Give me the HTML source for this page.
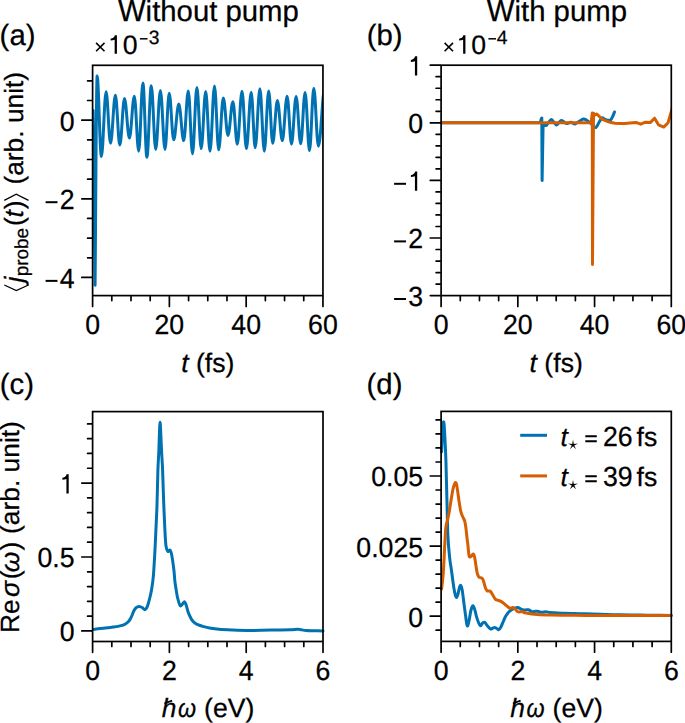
<!DOCTYPE html>
<html><head><meta charset="utf-8"><style>
html,body{margin:0;padding:0;background:#fff;overflow:hidden;}
svg{display:block;}
text{text-rendering:geometricPrecision;}
</style></head><body>
<svg width="685" height="723" viewBox="0 0 685 723">
<rect width="685" height="723" fill="#fff"/>
<clipPath id="ca"><rect x="92.6" y="64.3" width="230.35" height="232.30"/></clipPath>
<path d="M93.1,110.5 L95.1,285.2 C95.8,200 96.3,80 97.1,76.0C98.66,76.00 99.84,156.50 101.40,156.50C103.11,156.50 104.39,91.80 106.10,91.80C107.70,91.80 108.90,143.30 110.50,143.30C112.28,143.30 113.62,95.30 115.40,95.30C117.00,95.30 118.20,145.10 119.80,145.10C121.51,145.10 122.79,98.50 124.50,98.50C126.28,98.50 127.62,138.10 129.40,138.10C131.18,138.10 132.52,96.20 134.30,96.20C135.90,96.20 137.10,151.20 138.70,151.20C140.23,151.20 141.37,83.00 142.90,83.00C144.35,83.00 145.45,157.30 146.90,157.30C148.50,157.30 149.70,85.70 151.30,85.70C152.90,85.70 154.10,149.40 155.70,149.40C157.41,149.40 158.69,90.40 160.40,90.40C162.07,90.40 163.33,149.40 165.00,149.40C166.53,149.40 167.67,93.20 169.20,93.20C170.84,93.20 172.06,139.80 173.70,139.80C175.55,139.80 176.95,104.10 178.80,104.10C180.58,104.10 181.92,140.70 183.70,140.70C185.37,140.70 186.63,90.90 188.30,90.90C189.83,90.90 190.97,153.80 192.50,153.80C194.10,153.80 195.30,87.40 196.90,87.40C198.46,87.40 199.64,148.60 201.20,148.60C202.84,148.60 204.06,91.50 205.70,91.50C207.26,91.50 208.44,151.20 210.00,151.20C211.64,151.20 212.86,86.00 214.50,86.00C216.03,86.00 217.17,149.80 218.70,149.80C220.37,149.80 221.63,97.90 223.30,97.90C225.01,97.90 226.29,135.40 228.00,135.40C229.78,135.40 231.12,101.80 232.90,101.80C234.50,101.80 235.70,144.20 237.30,144.20C239.01,144.20 240.29,91.30 242.00,91.30C243.60,91.30 244.80,148.60 246.40,148.60C248.14,148.60 249.46,92.30 251.20,92.30C252.65,92.30 253.75,147.70 255.20,147.70C256.91,147.70 258.19,88.80 259.90,88.80C261.50,88.80 262.70,151.20 264.30,151.20C265.90,151.20 267.10,90.90 268.70,90.90C270.15,90.90 271.25,143.30 272.70,143.30C274.41,143.30 275.69,100.60 277.40,100.60C279.18,100.60 280.52,140.70 282.30,140.70C284.04,140.70 285.36,96.20 287.10,96.20C288.70,96.20 289.90,144.20 291.50,144.20C293.17,144.20 294.43,96.50 296.10,96.50C297.77,96.50 299.03,143.80 300.70,143.80C302.30,143.80 303.50,92.40 305.10,92.40C306.70,92.40 307.90,150.80 309.50,150.80C311.06,150.80 312.24,88.30 313.80,88.30C315.47,88.30 316.73,146.30 318.40,146.30C320.73,146.30 322.47,88.00 324.80,88.00" fill="none" stroke="#0072b2" stroke-width="3.0" stroke-linejoin="round" stroke-linecap="round" clip-path="url(#ca)"/>
<path d="M441.10,122.70 L540.30,122.70 L541.30,118.60 L541.80,118.00 L542.10,180.60 L543.10,124.40C543.58,124.58 545.08,125.83 546.00,125.50C546.92,125.17 547.72,123.40 548.60,122.40C549.48,121.40 550.43,119.57 551.30,119.50C552.17,119.43 552.95,121.08 553.80,122.00C554.65,122.92 555.55,124.88 556.40,125.00C557.25,125.12 558.08,123.47 558.90,122.70C559.72,121.93 560.48,120.55 561.30,120.40C562.12,120.25 562.98,121.30 563.80,121.80C564.62,122.30 565.42,123.20 566.20,123.40C566.98,123.60 567.70,123.18 568.50,123.00C569.30,122.82 570.25,122.25 571.00,122.30C571.75,122.35 572.33,123.02 573.00,123.30C573.67,123.58 573.95,124.33 575.00,124.00C576.05,123.67 577.90,122.15 579.30,121.30C580.70,120.45 582.17,119.08 583.40,118.90C584.63,118.72 585.62,119.58 586.70,120.20C587.78,120.82 588.85,121.72 589.90,122.60C590.95,123.48 591.98,124.68 593.00,125.50C594.02,126.32 594.97,128.08 596.00,127.50C597.03,126.92 598.20,123.60 599.20,122.00C600.20,120.40 601.17,118.43 602.00,117.90C602.83,117.37 603.48,118.48 604.20,118.80C604.92,119.12 605.58,119.55 606.30,119.80C607.02,120.05 607.77,120.27 608.50,120.30C609.23,120.33 610.00,120.63 610.70,120.00C611.40,119.37 612.07,117.83 612.70,116.50C613.33,115.17 614.20,112.75 614.50,112.00" fill="none" stroke="#0072b2" stroke-width="3.0" stroke-linejoin="round" stroke-linecap="round"/>
<clipPath id="cb"><rect x="441.1" y="64.2" width="230.20" height="232.40"/></clipPath>
<path d="M441.10,122.70 L591.10,122.70 L592.30,112.90 L592.50,264.60 L593.50,113.20 L594.90,115.00L596.60,114.00 L598.50,115.60 L600.50,117.80 L603.00,119.70 L606.00,120.90 L610.00,122.30 L615.00,123.20 L620.00,123.60 L625.00,123.50 L630.00,123.00 L636.00,122.40 L640.70,124.20 L645.40,122.20 L650.20,122.60 L654.60,118.20 L658.60,124.90 L663.70,127.10 L668.10,122.70 L672.50,107.50" fill="none" stroke="#d55e00" stroke-width="3.0" stroke-linejoin="round" stroke-linecap="round" clip-path="url(#cb)"/>
<path d="M93.50,629.40C94.58,629.27 97.67,628.88 100.00,628.60C102.33,628.32 105.33,627.95 107.50,627.70C109.67,627.45 111.25,627.32 113.00,627.10C114.75,626.88 116.50,626.68 118.00,626.40C119.50,626.12 120.83,625.77 122.00,625.40C123.17,625.03 124.00,624.77 125.00,624.20C126.00,623.63 127.12,622.88 128.00,622.00C128.88,621.12 129.60,620.07 130.30,618.90C131.00,617.73 131.62,616.32 132.20,615.00C132.78,613.68 133.18,612.18 133.80,611.00C134.42,609.82 135.20,608.60 135.90,607.90C136.60,607.20 137.33,607.02 138.00,606.80C138.67,606.58 139.20,606.47 139.90,606.60C140.60,606.73 141.42,607.10 142.20,607.60C142.98,608.10 143.92,609.45 144.60,609.60C145.28,609.75 145.73,609.35 146.30,608.50C146.87,607.65 147.38,606.42 148.00,604.50C148.62,602.58 149.40,599.50 150.00,597.00C150.60,594.50 151.05,592.88 151.60,589.50C152.15,586.12 152.77,582.72 153.30,576.70C153.83,570.68 154.37,561.18 154.80,553.40C155.23,545.62 155.53,538.07 155.90,530.00C156.27,521.93 156.67,515.00 157.00,505.00C157.33,495.00 157.60,478.83 157.90,470.00C158.20,461.17 158.55,458.00 158.80,452.00C159.05,446.00 159.18,438.95 159.40,434.00C159.62,429.05 159.87,422.30 160.10,422.30C160.33,422.30 160.55,429.05 160.80,434.00C161.05,438.95 161.30,446.00 161.60,452.00C161.90,458.00 162.27,462.00 162.60,470.00C162.93,478.00 163.22,490.00 163.60,500.00C163.98,510.00 164.50,522.33 164.90,530.00C165.30,537.67 165.50,542.43 166.00,546.00C166.50,549.57 167.23,550.73 167.90,551.40C168.57,552.07 169.43,549.73 170.00,550.00C170.57,550.27 170.87,551.27 171.30,553.00C171.73,554.73 172.15,557.40 172.60,560.40C173.05,563.40 173.62,567.50 174.00,571.00C174.38,574.50 174.53,578.23 174.90,581.40C175.27,584.57 175.77,587.32 176.20,590.00C176.63,592.68 176.85,594.90 177.50,597.50C178.15,600.10 179.27,604.52 180.10,605.60C180.93,606.68 181.75,604.63 182.50,604.00C183.25,603.37 183.97,601.55 184.60,601.80C185.23,602.05 185.72,603.80 186.30,605.50C186.88,607.20 187.40,610.00 188.10,612.00C188.80,614.00 189.77,616.03 190.50,617.50C191.23,618.97 191.67,619.80 192.50,620.80C193.33,621.80 194.48,622.80 195.50,623.50C196.52,624.20 197.27,624.48 198.60,625.00C199.93,625.52 201.68,626.10 203.50,626.60C205.32,627.10 206.92,627.55 209.50,628.00C212.08,628.45 215.08,628.97 219.00,629.30C222.92,629.63 228.27,629.82 233.00,630.00C237.73,630.18 242.57,630.35 247.40,630.40C252.23,630.45 257.23,630.37 262.00,630.30C266.77,630.23 271.33,630.10 276.00,630.00C280.67,629.90 286.42,629.82 290.00,629.70C293.58,629.58 295.83,629.33 297.50,629.30C299.17,629.27 298.53,629.28 300.00,629.50C301.47,629.72 303.97,630.38 306.30,630.60C308.63,630.82 311.22,630.75 314.00,630.80C316.78,630.85 321.50,630.88 323.00,630.90" fill="none" stroke="#0072b2" stroke-width="3.0" stroke-linejoin="round" stroke-linecap="round"/>
<path d="M441.60,452.00C441.77,448.50 442.28,436.02 442.60,431.00C442.92,425.98 443.22,422.57 443.50,421.90C443.78,421.23 444.05,423.98 444.30,427.00C444.55,430.02 444.73,434.50 445.00,440.00C445.27,445.50 445.60,450.83 445.90,460.00C446.20,469.17 446.47,482.35 446.80,495.00C447.13,507.65 447.42,525.38 447.90,535.90C448.38,546.42 449.12,552.42 449.70,558.10C450.28,563.78 450.72,565.10 451.40,570.00C452.08,574.90 453.17,583.42 453.80,587.50C454.43,591.58 454.75,592.83 455.20,594.50C455.65,596.17 456.03,597.58 456.50,597.50C456.97,597.42 457.50,595.67 458.00,594.00C458.50,592.33 459.03,588.92 459.50,587.50C459.97,586.08 460.35,585.08 460.80,585.50C461.25,585.92 461.72,587.33 462.20,590.00C462.68,592.67 463.15,597.33 463.70,601.50C464.25,605.67 464.92,610.95 465.50,615.00C466.08,619.05 466.62,624.80 467.20,625.80C467.78,626.80 468.37,623.63 469.00,621.00C469.63,618.37 470.33,612.53 471.00,610.00C471.67,607.47 472.33,605.72 473.00,605.80C473.67,605.88 474.42,608.68 475.00,610.50C475.58,612.32 475.92,614.70 476.50,616.70C477.08,618.70 477.82,620.98 478.50,622.50C479.18,624.02 479.92,625.72 480.60,625.80C481.28,625.88 481.92,623.58 482.60,623.00C483.28,622.42 483.88,621.80 484.70,622.30C485.52,622.80 486.52,624.88 487.50,626.00C488.48,627.12 489.68,628.67 490.60,629.00C491.52,629.33 492.23,628.23 493.00,628.00C493.77,627.77 494.50,627.47 495.20,627.60C495.90,627.73 496.62,628.47 497.20,628.80C497.78,629.13 498.10,629.87 498.70,629.60C499.30,629.33 500.12,628.35 500.80,627.20C501.48,626.05 502.10,624.32 502.80,622.70C503.50,621.08 504.32,618.87 505.00,617.50C505.68,616.13 506.23,615.45 506.90,614.50C507.57,613.55 508.22,612.58 509.00,611.80C509.78,611.02 510.68,610.38 511.60,609.80C512.52,609.22 513.47,608.67 514.50,608.30C515.53,607.93 516.80,607.52 517.80,607.60C518.80,607.68 519.72,608.47 520.50,608.80C521.28,609.13 521.67,609.42 522.50,609.60C523.33,609.78 524.52,609.87 525.50,609.90C526.48,609.93 527.48,609.58 528.40,609.80C529.32,610.02 530.23,610.87 531.00,611.20C531.77,611.53 532.25,611.78 533.00,611.80C533.75,611.82 534.72,611.40 535.50,611.30C536.28,611.20 536.95,611.08 537.70,611.20C538.45,611.32 539.22,611.82 540.00,612.00C540.78,612.18 541.42,612.33 542.40,612.30C543.38,612.27 544.63,611.77 545.90,611.80C547.17,611.83 548.45,612.33 550.00,612.50C551.55,612.67 552.70,612.67 555.20,612.80C557.70,612.93 561.70,613.17 565.00,613.30C568.30,613.43 571.67,613.52 575.00,613.60C578.33,613.68 580.83,613.68 585.00,613.80C589.17,613.92 594.17,614.13 600.00,614.30C605.83,614.47 613.33,614.67 620.00,614.80C626.67,614.93 633.33,615.02 640.00,615.10C646.67,615.18 654.78,615.25 660.00,615.30C665.22,615.35 669.42,615.38 671.30,615.40" fill="none" stroke="#0072b2" stroke-width="3.0" stroke-linejoin="round" stroke-linecap="round"/>
<path d="M441.60,589.00C441.77,587.50 442.27,583.50 442.60,580.00C442.93,576.50 443.10,576.33 443.60,568.00C444.10,559.67 444.98,537.83 445.60,530.00C446.22,522.17 446.72,523.92 447.30,521.00C447.88,518.08 448.48,515.92 449.10,512.50C449.72,509.08 450.35,504.42 451.00,500.50C451.65,496.58 452.42,491.75 453.00,489.00C453.58,486.25 454.08,485.07 454.50,484.00C454.92,482.93 455.17,482.60 455.50,482.60C455.83,482.60 456.10,482.27 456.50,484.00C456.90,485.73 457.43,489.83 457.90,493.00C458.37,496.17 458.82,499.93 459.30,503.00C459.78,506.07 460.25,509.15 460.80,511.40C461.35,513.65 461.97,514.95 462.60,516.50C463.23,518.05 464.07,518.95 464.60,520.70C465.13,522.45 465.40,524.12 465.80,527.00C466.20,529.88 466.67,535.15 467.00,538.00C467.33,540.85 467.53,541.77 467.80,544.10C468.07,546.43 468.35,549.93 468.60,552.00C468.85,554.07 468.90,555.75 469.30,556.50C469.70,557.25 470.35,556.92 471.00,556.50C471.65,556.08 472.60,553.92 473.20,554.00C473.80,554.08 474.13,555.00 474.60,557.00C475.07,559.00 475.55,563.25 476.00,566.00C476.45,568.75 476.82,571.67 477.30,573.50C477.78,575.33 478.28,576.28 478.90,577.00C479.52,577.72 480.42,577.55 481.00,577.80C481.58,578.05 481.93,577.80 482.40,578.50C482.87,579.20 483.32,580.50 483.80,582.00C484.28,583.50 484.75,586.03 485.30,587.50C485.85,588.97 486.48,590.22 487.10,590.80C487.72,591.38 488.42,590.87 489.00,591.00C489.58,591.13 490.02,591.02 490.60,591.60C491.18,592.18 491.73,593.27 492.50,594.50C493.27,595.73 494.37,598.05 495.20,599.00C496.03,599.95 496.72,599.88 497.50,600.20C498.28,600.52 498.98,600.47 499.90,600.90C500.82,601.33 501.98,602.07 503.00,602.80C504.02,603.53 504.97,604.45 506.00,605.30C507.03,606.15 508.37,607.45 509.20,607.90C510.03,608.35 510.37,608.07 511.00,608.00C511.63,607.93 512.25,607.25 513.00,607.50C513.75,607.75 514.70,608.78 515.50,609.50C516.30,610.22 517.05,611.38 517.80,611.80C518.55,612.22 519.32,612.07 520.00,612.00C520.68,611.93 521.23,611.32 521.90,611.40C522.57,611.48 523.22,612.22 524.00,612.50C524.78,612.78 525.60,612.88 526.60,613.10C527.60,613.32 528.73,613.60 530.00,613.80C531.27,614.00 532.53,614.15 534.20,614.30C535.87,614.45 537.08,614.57 540.00,614.70C542.92,614.83 546.70,615.00 551.70,615.10C556.70,615.20 564.45,615.25 570.00,615.30C575.55,615.35 576.67,615.37 585.00,615.40C593.33,615.43 605.62,615.47 620.00,615.50C634.38,615.53 662.75,615.58 671.30,615.60" fill="none" stroke="#d55e00" stroke-width="3.0" stroke-linejoin="round" stroke-linecap="round"/>
<rect x="92.6" y="65.3" width="230.35" height="230.30" fill="none" stroke="#000" stroke-width="1.7"/>
<path d="M92.60,296.50v9.9M169.38,296.50v9.9M246.17,296.50v9.9M322.95,296.50v9.9M111.80,296.50v4.1M130.99,296.50v4.1M150.19,296.50v4.1M188.58,296.50v4.1M207.77,296.50v4.1M226.97,296.50v4.1M265.36,296.50v4.1M284.56,296.50v4.1M303.75,296.50v4.1" stroke="#000" stroke-width="1.7" stroke-linecap="round" fill="none"/>
<text transform="translate(85.19,333.80) scale(1,1.04)" style="font-family:&quot;Liberation Sans&quot;,sans-serif;stroke:#000;stroke-width:0.25px;font-size:26.67px">0</text>
<text transform="translate(154.55,333.80) scale(1,1.04)" style="font-family:&quot;Liberation Sans&quot;,sans-serif;stroke:#000;stroke-width:0.25px;font-size:26.67px">20</text>
<text transform="translate(231.34,333.80) scale(1,1.04)" style="font-family:&quot;Liberation Sans&quot;,sans-serif;stroke:#000;stroke-width:0.25px;font-size:26.67px">40</text>
<text transform="translate(308.12,333.80) scale(1,1.04)" style="font-family:&quot;Liberation Sans&quot;,sans-serif;stroke:#000;stroke-width:0.25px;font-size:26.67px">60</text>
<rect x="441.1" y="65.2" width="230.20" height="230.40" fill="none" stroke="#000" stroke-width="1.7"/>
<path d="M441.10,296.50v9.9M517.83,296.50v9.9M594.57,296.50v9.9M671.30,296.50v9.9M460.28,296.50v4.1M479.47,296.50v4.1M498.65,296.50v4.1M537.02,296.50v4.1M556.20,296.50v4.1M575.38,296.50v4.1M613.75,296.50v4.1M632.93,296.50v4.1M652.12,296.50v4.1" stroke="#000" stroke-width="1.7" stroke-linecap="round" fill="none"/>
<text transform="translate(433.69,333.80) scale(1,1.04)" style="font-family:&quot;Liberation Sans&quot;,sans-serif;stroke:#000;stroke-width:0.25px;font-size:26.67px">0</text>
<text transform="translate(503.00,333.80) scale(1,1.04)" style="font-family:&quot;Liberation Sans&quot;,sans-serif;stroke:#000;stroke-width:0.25px;font-size:26.67px">20</text>
<text transform="translate(579.74,333.80) scale(1,1.04)" style="font-family:&quot;Liberation Sans&quot;,sans-serif;stroke:#000;stroke-width:0.25px;font-size:26.67px">40</text>
<text transform="translate(656.47,333.80) scale(1,1.04)" style="font-family:&quot;Liberation Sans&quot;,sans-serif;stroke:#000;stroke-width:0.25px;font-size:26.67px">60</text>
<rect x="92.6" y="411.6" width="230.40" height="229.90" fill="none" stroke="#000" stroke-width="1.7"/>
<path d="M92.60,642.40v9.9M169.40,642.40v9.9M246.20,642.40v9.9M323.00,642.40v9.9M111.80,642.40v4.1M131.00,642.40v4.1M150.20,642.40v4.1M188.60,642.40v4.1M207.80,642.40v4.1M227.00,642.40v4.1M265.40,642.40v4.1M284.60,642.40v4.1M303.80,642.40v4.1" stroke="#000" stroke-width="1.7" stroke-linecap="round" fill="none"/>
<text transform="translate(85.19,679.70) scale(1,1.04)" style="font-family:&quot;Liberation Sans&quot;,sans-serif;stroke:#000;stroke-width:0.25px;font-size:26.67px">0</text>
<text transform="translate(161.99,679.70) scale(1,1.04)" style="font-family:&quot;Liberation Sans&quot;,sans-serif;stroke:#000;stroke-width:0.25px;font-size:26.67px">2</text>
<text transform="translate(238.79,679.70) scale(1,1.04)" style="font-family:&quot;Liberation Sans&quot;,sans-serif;stroke:#000;stroke-width:0.25px;font-size:26.67px">4</text>
<text transform="translate(315.59,679.70) scale(1,1.04)" style="font-family:&quot;Liberation Sans&quot;,sans-serif;stroke:#000;stroke-width:0.25px;font-size:26.67px">6</text>
<rect x="441.1" y="411.4" width="230.20" height="230.00" fill="none" stroke="#000" stroke-width="1.7"/>
<path d="M441.10,642.30v9.9M517.83,642.30v9.9M594.57,642.30v9.9M671.30,642.30v9.9M460.28,642.30v4.1M479.47,642.30v4.1M498.65,642.30v4.1M537.02,642.30v4.1M556.20,642.30v4.1M575.38,642.30v4.1M613.75,642.30v4.1M632.93,642.30v4.1M652.12,642.30v4.1" stroke="#000" stroke-width="1.7" stroke-linecap="round" fill="none"/>
<text transform="translate(433.69,679.60) scale(1,1.04)" style="font-family:&quot;Liberation Sans&quot;,sans-serif;stroke:#000;stroke-width:0.25px;font-size:26.67px">0</text>
<text transform="translate(510.42,679.60) scale(1,1.04)" style="font-family:&quot;Liberation Sans&quot;,sans-serif;stroke:#000;stroke-width:0.25px;font-size:26.67px">2</text>
<text transform="translate(587.15,679.60) scale(1,1.04)" style="font-family:&quot;Liberation Sans&quot;,sans-serif;stroke:#000;stroke-width:0.25px;font-size:26.67px">4</text>
<text transform="translate(663.89,679.60) scale(1,1.04)" style="font-family:&quot;Liberation Sans&quot;,sans-serif;stroke:#000;stroke-width:0.25px;font-size:26.67px">6</text>
<path d="M91.70,120.15h-9.9M91.70,198.81h-9.9M91.70,277.47h-9.9M91.70,80.82h-4.1M91.70,100.49h-4.1M91.70,139.81h-4.1M91.70,159.48h-4.1M91.70,179.15h-4.1M91.70,218.47h-4.1M91.70,238.14h-4.1M91.70,257.81h-4.1" stroke="#000" stroke-width="1.7" stroke-linecap="round" fill="none"/>
<text transform="translate(59.77,130.55) scale(1,1.04)" style="font-family:&quot;Liberation Sans&quot;,sans-serif;stroke:#000;stroke-width:0.25px;font-size:26.67px">0</text>
<path d="M45.60,202.21H57.50" stroke="#000" stroke-width="2.00"/>
<text transform="translate(59.77,209.21) scale(1,1.04)" style="font-family:&quot;Liberation Sans&quot;,sans-serif;stroke:#000;stroke-width:0.25px;font-size:26.67px">2</text>
<path d="M45.60,280.87H57.50" stroke="#000" stroke-width="2.00"/>
<text transform="translate(59.77,287.87) scale(1,1.04)" style="font-family:&quot;Liberation Sans&quot;,sans-serif;stroke:#000;stroke-width:0.25px;font-size:26.67px">4</text>
<path d="M440.20,65.20h-9.9M440.20,122.80h-9.9M440.20,180.40h-9.9M440.20,238.00h-9.9M440.20,295.60h-9.9M440.20,284.08h-4.1M440.20,272.56h-4.1M440.20,261.04h-4.1M440.20,249.52h-4.1M440.20,226.48h-4.1M440.20,214.96h-4.1M440.20,203.44h-4.1M440.20,191.92h-4.1M440.20,168.88h-4.1M440.20,157.36h-4.1M440.20,145.84h-4.1M440.20,134.32h-4.1M440.20,111.28h-4.1M440.20,99.76h-4.1M440.20,88.24h-4.1M440.20,76.72h-4.1" stroke="#000" stroke-width="1.7" stroke-linecap="round" fill="none"/>
<path d="M417.20,56.36L417.20,75.60L414.92,75.60L414.92,61.14C413.67,61.66 412.27,61.87 410.87,61.92L410.87,59.95C412.97,59.69 414.57,58.54 415.12,56.36Z" fill="#000"/>
<text transform="translate(408.27,133.20) scale(1,1.04)" style="font-family:&quot;Liberation Sans&quot;,sans-serif;stroke:#000;stroke-width:0.25px;font-size:26.67px">0</text>
<path d="M394.10,183.80H406.00" stroke="#000" stroke-width="2.00"/>
<path d="M417.20,171.56L417.20,190.80L414.92,190.80L414.92,176.34C413.67,176.86 412.27,177.07 410.87,177.12L410.87,175.15C412.97,174.89 414.57,173.74 415.12,171.56Z" fill="#000"/>
<path d="M394.10,241.40H406.00" stroke="#000" stroke-width="2.00"/>
<text transform="translate(408.27,248.40) scale(1,1.04)" style="font-family:&quot;Liberation Sans&quot;,sans-serif;stroke:#000;stroke-width:0.25px;font-size:26.67px">2</text>
<path d="M394.10,299.00H406.00" stroke="#000" stroke-width="2.00"/>
<text transform="translate(408.27,306.00) scale(1,1.04)" style="font-family:&quot;Liberation Sans&quot;,sans-serif;stroke:#000;stroke-width:0.25px;font-size:26.67px">3</text>
<path d="M91.70,630.95h-9.9M91.70,557.00h-9.9M91.70,483.05h-9.9M91.70,616.16h-4.1M91.70,601.37h-4.1M91.70,586.58h-4.1M91.70,571.79h-4.1M91.70,542.21h-4.1M91.70,527.42h-4.1M91.70,512.63h-4.1M91.70,497.84h-4.1M91.70,468.26h-4.1M91.70,453.47h-4.1M91.70,438.68h-4.1M91.70,423.89h-4.1" stroke="#000" stroke-width="1.7" stroke-linecap="round" fill="none"/>
<text transform="translate(59.77,641.35) scale(1,1.04)" style="font-family:&quot;Liberation Sans&quot;,sans-serif;stroke:#000;stroke-width:0.25px;font-size:26.67px">0</text>
<text transform="translate(37.53,567.40) scale(1,1.04)" style="font-family:&quot;Liberation Sans&quot;,sans-serif;stroke:#000;stroke-width:0.25px;font-size:26.67px">0.5</text>
<path d="M68.70,474.21L68.70,493.45L66.42,493.45L66.42,478.99C65.17,479.51 63.77,479.72 62.37,479.77L62.37,477.80C64.47,477.54 66.07,476.39 66.62,474.21Z" fill="#000"/>
<path d="M440.20,616.20h-9.9M440.20,546.10h-9.9M440.20,476.00h-9.9M440.20,630.22h-4.1M440.20,602.18h-4.1M440.20,588.16h-4.1M440.20,574.14h-4.1M440.20,560.12h-4.1M440.20,532.08h-4.1M440.20,518.06h-4.1M440.20,504.04h-4.1M440.20,490.02h-4.1M440.20,461.98h-4.1M440.20,447.96h-4.1M440.20,433.94h-4.1M440.20,419.92h-4.1" stroke="#000" stroke-width="1.7" stroke-linecap="round" fill="none"/>
<text transform="translate(408.27,626.60) scale(1,1.04)" style="font-family:&quot;Liberation Sans&quot;,sans-serif;stroke:#000;stroke-width:0.25px;font-size:26.67px">0</text>
<text transform="translate(356.37,556.50) scale(1,1.04)" style="font-family:&quot;Liberation Sans&quot;,sans-serif;stroke:#000;stroke-width:0.25px;font-size:26.67px">0.025</text>
<text transform="translate(371.20,486.40) scale(1,1.04)" style="font-family:&quot;Liberation Sans&quot;,sans-serif;stroke:#000;stroke-width:0.25px;font-size:26.67px">0.05</text>
<path d="M520.2,435.3H547.0" stroke="#0072b2" stroke-width="3.0"/>
<text x="560.4" y="445.9" style="font-family:&quot;Liberation Sans&quot;,sans-serif;stroke:#000;stroke-width:0.25px;font-size:26.4px;font-style:italic">t</text>
<path d="M573.00,439.80 L572.21,443.91 L568.05,443.39 L571.72,445.42 L569.94,449.21 L573.00,446.35 L576.06,449.21 L574.28,445.42 L577.95,443.39 L573.79,443.91Z" fill="#000"/>
<path d="M585.3,436.2H596.8M585.3,441.2H596.8" stroke="#000" stroke-width="1.9"/>
<text transform="translate(602.90,445.90) scale(1,1.04)" style="font-family:&quot;Liberation Sans&quot;,sans-serif;stroke:#000;stroke-width:0.25px;font-size:26.67px">26</text>
<text x="636.6" y="445.9" style="font-family:&quot;Liberation Sans&quot;,sans-serif;stroke:#000;stroke-width:0.25px;font-size:26.67px">fs</text>
<path d="M520.2,475.9H547.0" stroke="#d55e00" stroke-width="3.0"/>
<text x="560.4" y="486.0" style="font-family:&quot;Liberation Sans&quot;,sans-serif;stroke:#000;stroke-width:0.25px;font-size:26.4px;font-style:italic">t</text>
<path d="M573.00,479.90 L572.21,484.01 L568.05,483.49 L571.72,485.52 L569.94,489.31 L573.00,486.45 L576.06,489.31 L574.28,485.52 L577.95,483.49 L573.79,484.01Z" fill="#000"/>
<path d="M585.3,476.3H596.8M585.3,481.3H596.8" stroke="#000" stroke-width="1.9"/>
<text transform="translate(602.90,486.00) scale(1,1.04)" style="font-family:&quot;Liberation Sans&quot;,sans-serif;stroke:#000;stroke-width:0.25px;font-size:26.67px">39</text>
<text x="636.6" y="486.0" style="font-family:&quot;Liberation Sans&quot;,sans-serif;stroke:#000;stroke-width:0.25px;font-size:26.67px">fs</text>
<text transform="translate(117.93,21.0) scale(1,1.05)" style="font-family:&quot;Liberation Sans&quot;,sans-serif;stroke:#000;stroke-width:0.25px;font-size:29.33px">W</text>
<text x="145.61" y="21.0" style="font-family:&quot;Liberation Sans&quot;,sans-serif;stroke:#000;stroke-width:0.25px;font-size:29.33px">ithout pump</text>
<text transform="translate(486.82,21.0) scale(1,1.05)" style="font-family:&quot;Liberation Sans&quot;,sans-serif;stroke:#000;stroke-width:0.25px;font-size:29.33px">W</text>
<text x="514.50" y="21.0" style="font-family:&quot;Liberation Sans&quot;,sans-serif;stroke:#000;stroke-width:0.25px;font-size:29.33px">ith pump</text>
<text x="-0.4" y="44.9" style="font-family:&quot;Liberation Sans&quot;,sans-serif;stroke:#000;stroke-width:0.25px;font-size:29.33px">(a)</text>
<text x="366.7" y="45.2" style="font-family:&quot;Liberation Sans&quot;,sans-serif;stroke:#000;stroke-width:0.25px;font-size:29.33px">(b)</text>
<text x="-0.3" y="394.4" style="font-family:&quot;Liberation Sans&quot;,sans-serif;stroke:#000;stroke-width:0.25px;font-size:29.33px">(c)</text>
<text x="366.6" y="394.4" style="font-family:&quot;Liberation Sans&quot;,sans-serif;stroke:#000;stroke-width:0.25px;font-size:29.33px">(d)</text>
<path d="M96.10,42.90L104.50,51.30M104.50,42.90L96.10,51.30" stroke="#000" stroke-width="1.6"/>
<path d="M116.93,35.20L116.93,53.70L114.65,53.70L114.65,39.80C113.40,40.30 112.00,40.50 110.60,40.55L110.60,38.65C112.70,38.40 114.30,37.30 114.85,35.20Z" fill="#000"/>
<text transform="translate(108.00,53.70) scale(1,1.0)" style="font-family:&quot;Liberation Sans&quot;,sans-serif;stroke:#000;stroke-width:0.25px;font-size:26.67px"> 0</text>
<path d="M139.90,38.8H147.50" stroke="#000" stroke-width="1.5"/>
<text x="148.80" y="43.5" style="font-family:&quot;Liberation Sans&quot;,sans-serif;stroke:#000;stroke-width:0.25px;font-size:19.3px">3</text>
<path d="M444.60,42.90L453.00,51.30M453.00,42.90L444.60,51.30" stroke="#000" stroke-width="1.6"/>
<path d="M465.43,35.20L465.43,53.70L463.15,53.70L463.15,39.80C461.90,40.30 460.50,40.50 459.10,40.55L459.10,38.65C461.20,38.40 462.80,37.30 463.35,35.20Z" fill="#000"/>
<text transform="translate(456.50,53.70) scale(1,1.0)" style="font-family:&quot;Liberation Sans&quot;,sans-serif;stroke:#000;stroke-width:0.25px;font-size:26.67px"> 0</text>
<path d="M488.40,38.8H496.00" stroke="#000" stroke-width="1.5"/>
<text x="496.70" y="43.5" style="font-family:&quot;Liberation Sans&quot;,sans-serif;stroke:#000;stroke-width:0.25px;font-size:19.3px">4</text>
<text x="207.8" y="371.6" text-anchor="middle" style="font-family:&quot;Liberation Sans&quot;,sans-serif;stroke:#000;stroke-width:0.25px;font-size:26.67px"><tspan style="font-style:italic">t</tspan> (fs)</text>
<text x="556.2" y="371.6" text-anchor="middle" style="font-family:&quot;Liberation Sans&quot;,sans-serif;stroke:#000;stroke-width:0.25px;font-size:26.67px"><tspan style="font-style:italic">t</tspan> (fs)</text>
<text x="161.80" y="717.3" style="font-family:&quot;Liberation Sans&quot;,sans-serif;stroke:#000;stroke-width:0.25px;font-size:26.4px;font-style:italic">h</text>
<path d="M164.40,703.50L172.10,700.70" stroke="#000" stroke-width="1.8"/>
<text transform="translate(177.90,717.3) scale(0.88,1)" style="font-family:&quot;Liberation Sans&quot;,sans-serif;stroke:#000;stroke-width:0.25px;font-size:26.4px;font-style:italic">ω</text>
<text x="204.00" y="717.3" style="font-family:&quot;Liberation Sans&quot;,sans-serif;stroke:#000;stroke-width:0.25px;font-size:26.67px">(eV)</text>
<text x="510.30" y="717.3" style="font-family:&quot;Liberation Sans&quot;,sans-serif;stroke:#000;stroke-width:0.25px;font-size:26.4px;font-style:italic">h</text>
<path d="M512.90,703.50L520.60,700.70" stroke="#000" stroke-width="1.8"/>
<text transform="translate(526.40,717.3) scale(0.88,1)" style="font-family:&quot;Liberation Sans&quot;,sans-serif;stroke:#000;stroke-width:0.25px;font-size:26.4px;font-style:italic">ω</text>
<text x="552.50" y="717.3" style="font-family:&quot;Liberation Sans&quot;,sans-serif;stroke:#000;stroke-width:0.25px;font-size:26.67px">(eV)</text>
<path d="M4.3,285.0 L16.3,290.6 L28.5,285.0" fill="none" stroke="#000" stroke-width="1.3"/>
<text transform="translate(22.50,282.40) rotate(-90)" style="font-family:&quot;Liberation Sans&quot;,sans-serif;stroke:#000;stroke-width:0.25px;font-size:26.4px;font-style:italic">j</text>
<text transform="translate(27.80,276.20) rotate(-90)" style="font-family:&quot;Liberation Sans&quot;,sans-serif;stroke:#000;stroke-width:0.25px;font-size:18.9px">probe</text>
<text transform="translate(22.50,226.00) rotate(-90)" style="font-family:&quot;Liberation Sans&quot;,sans-serif;stroke:#000;stroke-width:0.25px;font-size:26.4px">(</text>
<text transform="translate(22.50,217.40) rotate(-90)" style="font-family:&quot;Liberation Sans&quot;,sans-serif;stroke:#000;stroke-width:0.25px;font-size:26.4px;font-style:italic">t</text>
<text transform="translate(22.50,209.20) rotate(-90)" style="font-family:&quot;Liberation Sans&quot;,sans-serif;stroke:#000;stroke-width:0.25px;font-size:26.4px">)</text>
<path d="M4.3,200.4 L16.2,194.2 L28.5,200.4" fill="none" stroke="#000" stroke-width="1.3"/>
<text transform="translate(22.50,184.60) rotate(-90)" style="font-family:&quot;Liberation Sans&quot;,sans-serif;stroke:#000;stroke-width:0.25px;font-size:26.35px">(arb. unit)</text>
<text transform="translate(19.10,633.00) rotate(-90)" style="font-family:&quot;Liberation Sans&quot;,sans-serif;stroke:#000;stroke-width:0.25px;font-size:26.4px">Re</text>
<text transform="translate(19.10,597.00) rotate(-90)" style="font-family:&quot;Liberation Sans&quot;,sans-serif;stroke:#000;stroke-width:0.25px;font-size:26.4px;font-style:italic">σ</text>
<text transform="translate(19.10,579.30) rotate(-90)" style="font-family:&quot;Liberation Sans&quot;,sans-serif;stroke:#000;stroke-width:0.25px;font-size:26.4px">(</text>
<text transform="translate(19.10,572.20) rotate(-90)" style="font-family:&quot;Liberation Sans&quot;,sans-serif;stroke:#000;stroke-width:0.25px;font-size:26.4px;font-style:italic">ω</text>
<text transform="translate(19.10,550.40) rotate(-90)" style="font-family:&quot;Liberation Sans&quot;,sans-serif;stroke:#000;stroke-width:0.25px;font-size:26.4px">)</text>
<text transform="translate(19.10,533.90) rotate(-90)" style="font-family:&quot;Liberation Sans&quot;,sans-serif;stroke:#000;stroke-width:0.25px;font-size:26.35px">(arb. unit)</text>
</svg>
</body></html>
